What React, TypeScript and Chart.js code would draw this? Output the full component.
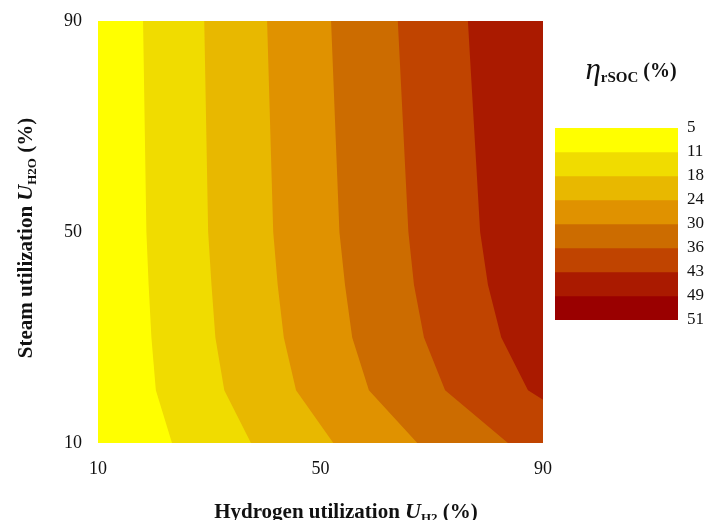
import React, { useEffect, useRef } from 'react';
import { Chart, registerables } from 'chart.js';

Chart.register(...registerables);

// ---- data ----
// Steam utilization levels (y) at which the contour boundaries were read
const steamUtil = [10, 20, 30, 40, 50, 90];
// Hydrogen utilization (x) of each contour boundary at those steam levels
const iso5 = [10, 10, 10, 10, 10, 10];
const iso11 = [23.3, 20.4, 19.6, 19.1, 18.7, 18.1];
const iso18 = [37.5, 32.7, 31.1, 30.4, 29.8, 29.1];
const iso24 = [52.3, 45.6, 43.4, 42.3, 41.5, 40.4];
const iso30 = [67.4, 58.7, 55.7, 54.4, 53.4, 51.9];
const iso36 = [83.7, 72.4, 68.6, 66.8, 65.8, 63.9];
const steamUtil43 = [10, 18.2, 20, 30, 40, 50, 90];
const iso43 = [90, 90, 87.3, 82.5, 80.1, 78.7, 76.5];

const levelLabels = ['5', '11', '18', '24', '30', '36', '43', '49', '51'];
const levelColors = ['#FFFF00', '#F0DC00', '#E8B800', '#E09200', '#CC6C00', '#C04400', '#AA1A00', '#9A0000'];
const axisTicks = [10, 50, 90];

const SERIF = '"Liberation Serif", "Times New Roman", serif';

type Part = { t: string; f: string; dy?: number };

function drawRich(ctx: CanvasRenderingContext2D, parts: Part[], cx: number, by: number, rot: number) {
  ctx.save();
  ctx.translate(cx, by);
  ctx.rotate(rot);
  ctx.fillStyle = '#111';
  ctx.textAlign = 'left';
  ctx.textBaseline = 'alphabetic';
  let total = 0;
  for (const p of parts) {
    ctx.font = p.f;
    total += ctx.measureText(p.t).width;
  }
  let x = -total / 2;
  for (const p of parts) {
    ctx.font = p.f;
    ctx.fillText(p.t, x, p.dy || 0);
    x += ctx.measureText(p.t).width;
  }
  ctx.restore();
}

const xTitle: Part[] = [
  { t: 'Hydrogen utilization ', f: `bold 21px ${SERIF}` },
  { t: 'U', f: `italic bold 22px ${SERIF}` },
  { t: 'H2', f: `bold 13px ${SERIF}`, dy: 4 },
  { t: ' (%)', f: `bold 21px ${SERIF}` },
];
const yTitle: Part[] = [
  { t: 'Steam utilization ', f: `bold 21px ${SERIF}` },
  { t: 'U', f: `italic bold 22px ${SERIF}` },
  { t: 'H2O', f: `bold 13px ${SERIF}`, dy: 4 },
  { t: ' (%)', f: `bold 21px ${SERIF}` },
];
const cbTitle: Part[] = [
  { t: 'η', f: `italic 31px ${SERIF}` },
  { t: 'rSOC', f: `bold 15px ${SERIF}`, dy: 3 },
  { t: ' (%)', f: `bold 20px ${SERIF}`, dy: -2 },
];

export default function App() {
  const mainRef = useRef<HTMLCanvasElement>(null);
  const barRef = useRef<HTMLCanvasElement>(null);

  useEffect(() => {
    const bands = [
      { x: iso5, y: steamUtil },
      { x: iso11, y: steamUtil },
      { x: iso18, y: steamUtil },
      { x: iso24, y: steamUtil },
      { x: iso30, y: steamUtil },
      { x: iso36, y: steamUtil },
      { x: iso43, y: steamUtil43 },
    ];

    const titlePlugin = {
      id: 'axisTitles',
      afterDraw(chart: any) {
        const ctx = chart.ctx as CanvasRenderingContext2D;
        drawRich(ctx, xTitle, 346, 518, 0);
        drawRich(ctx, yTitle, 32, 238, -Math.PI / 2);
      },
    };

    const tickFont = { family: SERIF, size: 18 };

    const main = new Chart(mainRef.current as HTMLCanvasElement, {
      type: 'line',
      data: {
        datasets: bands.map((b, i) => ({
          data: b.y.map((y, k) => ({ x: b.x[k], y })),
          backgroundColor: levelColors[i],
          borderColor: 'rgba(0,0,0,0)',
          borderWidth: 0,
          pointRadius: 0,
          tension: 0,
          fill: { value: 90 },
          order: bands.length - i,
        })),
      } as any,
      options: {
        indexAxis: 'y',
        animation: false,
        responsive: false,
        devicePixelRatio: 1,
        events: [],
        layout: { padding: { left: 0, right: 164, top: 21, bottom: 0 } },
        plugins: {
          legend: { display: false },
          tooltip: { enabled: false },
          filler: { propagate: false },
        },
        scales: {
          x: {
            type: 'linear',
            min: 10,
            max: 90,
            afterBuildTicks: (s: any) => {
              s.ticks = axisTicks.map((v) => ({ value: v }));
            },
            afterFit: (s: any) => {
              s.height = 77;
              s.paddingLeft = 0;
              s.paddingRight = 0;
            },
            grid: { display: false, drawTicks: false },
            border: { display: false },
            ticks: { font: tickFont, color: '#111', padding: 15, maxRotation: 0, autoSkip: false },
          },
          y: {
            type: 'linear',
            min: 10,
            max: 90,
            afterBuildTicks: (s: any) => {
              s.ticks = axisTicks.map((v) => ({ value: v }));
            },
            afterFit: (s: any) => {
              s.width = 98;
              s.paddingTop = 0;
              s.paddingBottom = 0;
            },
            grid: { display: false, drawTicks: false },
            border: { display: false },
            ticks: { font: tickFont, color: '#111', padding: 16, autoSkip: false },
          },
        },
      } as any,
      plugins: [titlePlugin],
    });

    const cbTitlePlugin = {
      id: 'cbTitle',
      afterDraw(chart: any) {
        const ctx = chart.ctx as CanvasRenderingContext2D;
        drawRich(ctx, cbTitle, 86, 79, 0);
      },
    };

    const bar = new Chart(barRef.current as HTMLCanvasElement, {
      type: 'bar',
      data: {
        labels: [''],
        datasets: levelColors.map((c) => ({
          data: [1],
          backgroundColor: c,
          borderWidth: 0,
          barPercentage: 1,
          categoryPercentage: 1,
        })),
      },
      options: {
        animation: false,
        responsive: false,
        devicePixelRatio: 1,
        events: [],
        layout: { padding: { left: 10, right: 0, top: 128, bottom: 20 } },
        plugins: { legend: { display: false }, tooltip: { enabled: false } },
        scales: {
          x: { type: 'category', stacked: true, display: false },
          y: {
            type: 'linear',
            position: 'right',
            stacked: true,
            reverse: true,
            min: 0,
            max: levelColors.length,
            afterBuildTicks: (s: any) => {
              s.ticks = levelLabels.map((_, i) => ({ value: i }));
            },
            afterFit: (s: any) => {
              s.width = 29;
            },
            grid: { display: false, drawTicks: false },
            border: { display: false },
            ticks: {
              font: { family: SERIF, size: 17 },
              color: '#111',
              padding: 9,
              autoSkip: false,
              callback: (v: any) => levelLabels[Number(v)],
            },
          },
        },
      } as any,
      plugins: [cbTitlePlugin],
    });

    return () => {
      main.destroy();
      bar.destroy();
    };
  }, []);

  return (
    <div style={{ position: 'absolute', left: 0, top: 0, width: 707, height: 520, background: '#fff' }}>
      <canvas ref={mainRef} width={707} height={520} style={{ position: 'absolute', left: 0, top: 0 }} />
      <canvas ref={barRef} width={162} height={340} style={{ position: 'absolute', left: 545, top: 0 }} />
    </div>
  );
}
